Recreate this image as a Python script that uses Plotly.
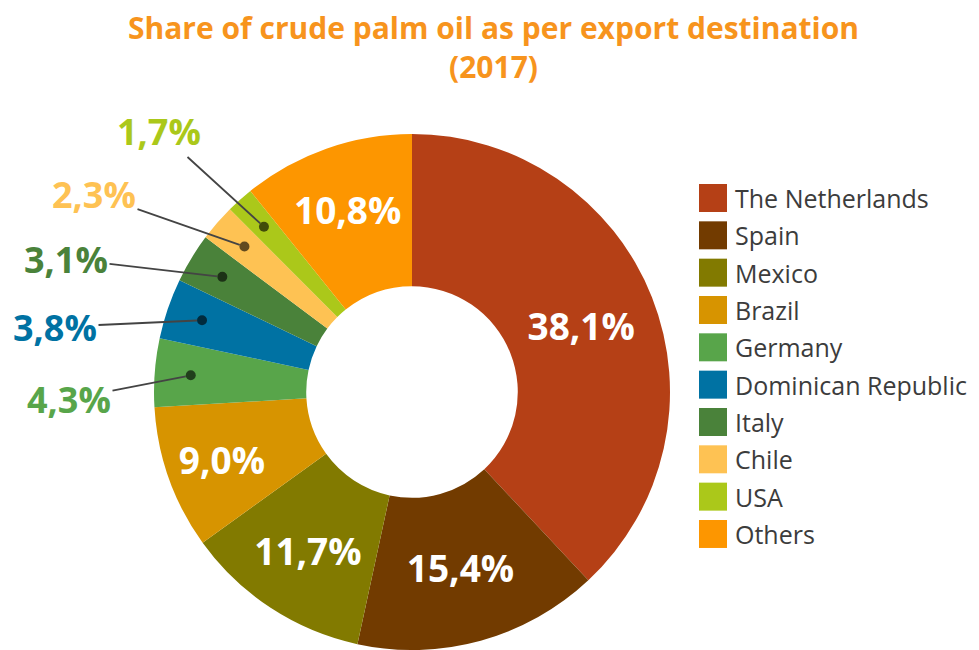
import math
import plotly.graph_objects as go

#------------------------ DATA --------------------------#

countries = ["The Netherlands", "Spain", "Mexico", "Brazil", "Germany",
             "Dominican Republic", "Italy", "Chile", "USA", "Others"]
shares = [38.1, 15.4, 11.7, 9.0, 4.3, 3.8, 3.1, 2.3, 1.7, 10.8]
colors = ["#B54016", "#723B00", "#827A00", "#D79400", "#58A54A",
          "#0072A3", "#4A823A", "#FEC253", "#ABC81A", "#FD9600"]

# slices labelled outside the ring, with where their label sits (px)
outside = {"USA": (159, 131), "Chile": (94, 194), "Italy": (66, 259),
           "Dominican Republic": (55, 327), "Germany": (69, 399)}

title_txt = "Share of crude palm oil as per export destination<br>(2017)"

#------------------------ LAYOUT HELPERS --------------------------#

# the page body has an 8px margin, so the figure is a bit smaller than the window
OFF = 8
W, H = 979 - OFF, 650 - OFF
CX, CY, R = 412, 392, 258   # donut centre and radius in screen px


def px(x):
    return (x - OFF) / W


def py(y):
    return 1 - (y - OFF) / H


font_fam = "Open Sans"

texts = ["" if c in outside else "%{value:.1f}%" for c in countries]

fig = go.Figure(go.Pie(
    labels=countries,
    values=shares,
    sort=False,
    direction="clockwise",
    hole=0.41,
    marker=dict(colors=colors, line=dict(width=0)),
    texttemplate=texts,
    textposition="inside",
    insidetextorientation="horizontal",
    insidetextfont=dict(color="white", size=37, family=font_fam, weight="bold"),
    domain=dict(x=[px(CX - R), px(CX + R)], y=[0, 2 * R / H]),
    hoverinfo="label+percent",
    showlegend=False,
))

annotations = []
shapes = []

# titulo (dos lineas en un solo texto)
annotations.append(dict(text=title_txt, x=px(493), y=py(47), xref="paper", yref="paper",
                        showarrow=False, xanchor="center", yanchor="middle",
                        font=dict(size=30, color="#F7941D", family=font_fam, weight="bold")))

# etiquetas externas con linea y punto
total = sum(shares)
cum = 0
for name, val, col in zip(countries, shares, colors):
    mid = (cum + val / 2) / total * 2 * math.pi
    cum += val
    if name not in outside:
        continue
    dx = CX + 0.86 * R * math.sin(mid)
    dy = CY - 0.86 * R * math.cos(mid)
    lx, ly = outside[name]
    shapes.append(dict(type="circle", xref="paper", yref="paper",
                       x0=px(dx - 5), x1=px(dx + 5), y0=py(dy + 5), y1=py(dy - 5),
                       fillcolor="rgba(0,0,0,0.62)", line=dict(width=0), layer="above"))
    annotations.append(dict(text="{:.1f}%".format(val).replace(".", ","),
                            x=px(dx), y=py(dy), xref="paper", yref="paper",
                            ax=lx - dx, ay=ly - dy, showarrow=True, arrowhead=0,
                            arrowwidth=1.8, arrowcolor="#444444", standoff=5,
                            font=dict(size=36, color=col, family=font_fam, weight="bold")))

# leyenda manual (cuadros grandes)
for i, (name, col) in enumerate(zip(countries, colors)):
    yc = 198 + i * 37.33
    shapes.append(dict(type="rect", xref="paper", yref="paper",
                       x0=px(699), x1=px(727), y0=py(yc + 14), y1=py(yc - 14),
                       fillcolor=col, line=dict(width=0)))
    annotations.append(dict(text=name, x=px(733), y=py(yc), xref="paper", yref="paper",
                            showarrow=False, xanchor="left", yanchor="middle",
                            font=dict(size=25, color="#3C3C3C", family=font_fam)))

fig.update_layout(
    width=W, height=H,
    margin=dict(l=0, r=0, t=0, b=0),
    paper_bgcolor="white",
    plot_bgcolor="white",
    separators=",.",
    annotations=annotations,
    shapes=shapes,
    showlegend=False,
)

fig.write_html("out.html")
